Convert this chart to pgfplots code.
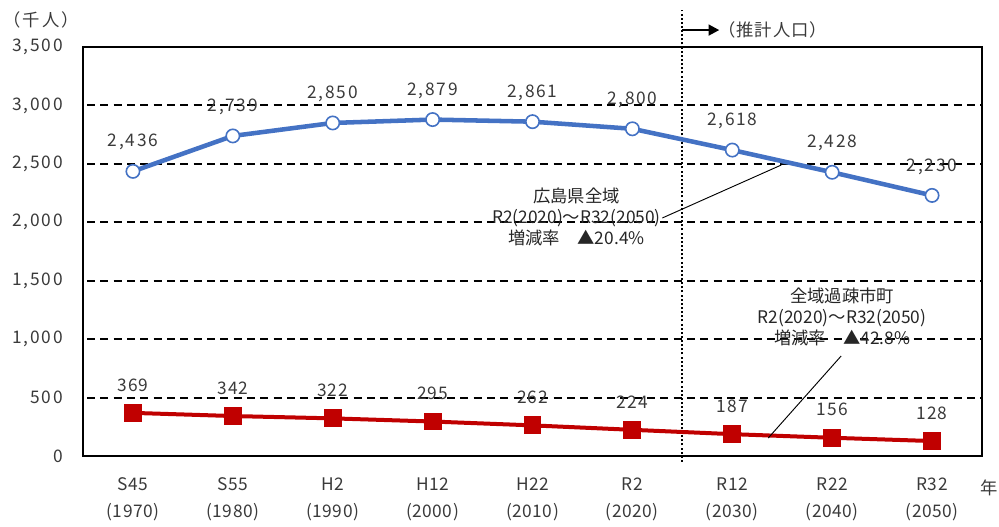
\documentclass[border=0pt]{standalone}
\usepackage{pgfplots}
\pgfplotsset{compat=1.18}
\usepackage{fontspec}
\setmainfont{Noto Sans CJK JP}
\usetikzlibrary{arrows.meta}
\definecolor{bluel}{HTML}{4472C4}
\definecolor{redl}{HTML}{C00000}
\definecolor{txt}{HTML}{3A3A3A}

\pgfplotstableread{
x y
0 2436
1 2739
2 2850
3 2879
4 2861
5 2800
6 2618
7 2428
8 2230
}\hiroshima

\pgfplotstableread{
x y
0 369
1 342
2 322
3 295
4 262
5 224
6 187
7 156
8 128
}\kaso

\begin{document}
\begin{tikzpicture}
\useasboundingbox (0,0) rectangle (749.25pt,394.5pt);
\begin{axis}[
  at={(62.25pt,52.5pt)}, anchor=south west,
  scale only axis, width=674.25pt, height=306.75pt,
  xmin=-0.5, xmax=8.5, ymin=0, ymax=3500,
  xtick={0,...,8},
  xticklabels={S45\\(1970), S55\\(1980), H2\\(1990), H12\\(2000), H22\\(2010), R2\\(2020), R12\\(2030), R22\\(2040), R32\\(2050)},
  xticklabel style={align=center, font=\fontsize{13}{20}\selectfont\addfontfeature{LetterSpace=3}, text=txt, anchor=north, yshift=-13pt},
  ytick={0,500,...,3500},
  yticklabel style={font=\fontsize{13}{15}\selectfont\addfontfeature{LetterSpace=10}, text=txt, anchor=east, inner sep=0pt, xshift=-15pt},
  major tick length=0pt,
  ymajorgrids,
  grid style={black, line width=1.5pt, dash pattern=on 6pt off 4pt, dash phase=-3pt},
  axis line style={line width=1.9pt},
  /pgf/number format/1000 sep={,},
  /pgf/number format/assume math mode=true,
  clip=false,
]
\draw[line width=1.6pt, dash pattern=on 1.5pt off 1.6pt] (axis cs:5.5,-51) -- (axis cs:5.5,3816);
\draw[-{Triangle[length=8pt,width=8pt]}, line width=1.8pt] (axis cs:5.5,3645) -- (axis cs:5.87,3645);
\node[anchor=west, inner sep=0pt, font=\fontsize{13}{15}\selectfont\addfontfeature{LetterSpace=5}, text=txt] at (axis cs:5.86,3645) {（推計人口）};
\node[anchor=west, inner sep=0pt, font=\fontsize{13}{15}\selectfont\addfontfeature{LetterSpace=12}, text=txt] at (axis cs:-1.30,3731) {（千人）};
\node[font=\fontsize{13}{15}\selectfont, text=txt] at (axis cs:8.57,-274) {年};

\addplot[color=bluel, line width=3.4pt, mark=*, mark size=5pt,
  mark options={fill=white, draw=bluel, line width=1.2pt},
  nodes near coords,
  nodes near coords style={font=\fontsize{13}{15}\selectfont\addfontfeature{LetterSpace=10}, text=txt, anchor=center, yshift=21.75pt}]
  table[x=x,y=y] {\hiroshima};

\addplot[color=redl, line width=3pt, mark=square*, mark size=6.3pt,
  mark options={fill=redl, draw=redl, line width=0pt},
  nodes near coords,
  nodes near coords style={font=\fontsize{13}{15}\selectfont\addfontfeature{LetterSpace=6}, text=txt, anchor=center, yshift=21pt}]
  table[x=x,y=y] {\kaso};

\node[align=center, font=\fontsize{13}{16}\selectfont, text=black!85] at (axis cs:4.44,2045) {広島県全域\\R2(2020)～R32(2050)\\増減率　▲20.4\%};
\draw[line width=0.7pt] (axis cs:5.30,2037) -- (axis cs:6.49,2490);

\node[align=center, font=\fontsize{13}{16}\selectfont, text=black!85] at (axis cs:7.10,1189) {全域過疎市町\\R2(2020)～R32(2050)\\増減率　▲42.8\%};
\draw[line width=0.7pt] (axis cs:7.09,856) -- (axis cs:6.36,154);
\end{axis}
\end{tikzpicture}
\end{document}
